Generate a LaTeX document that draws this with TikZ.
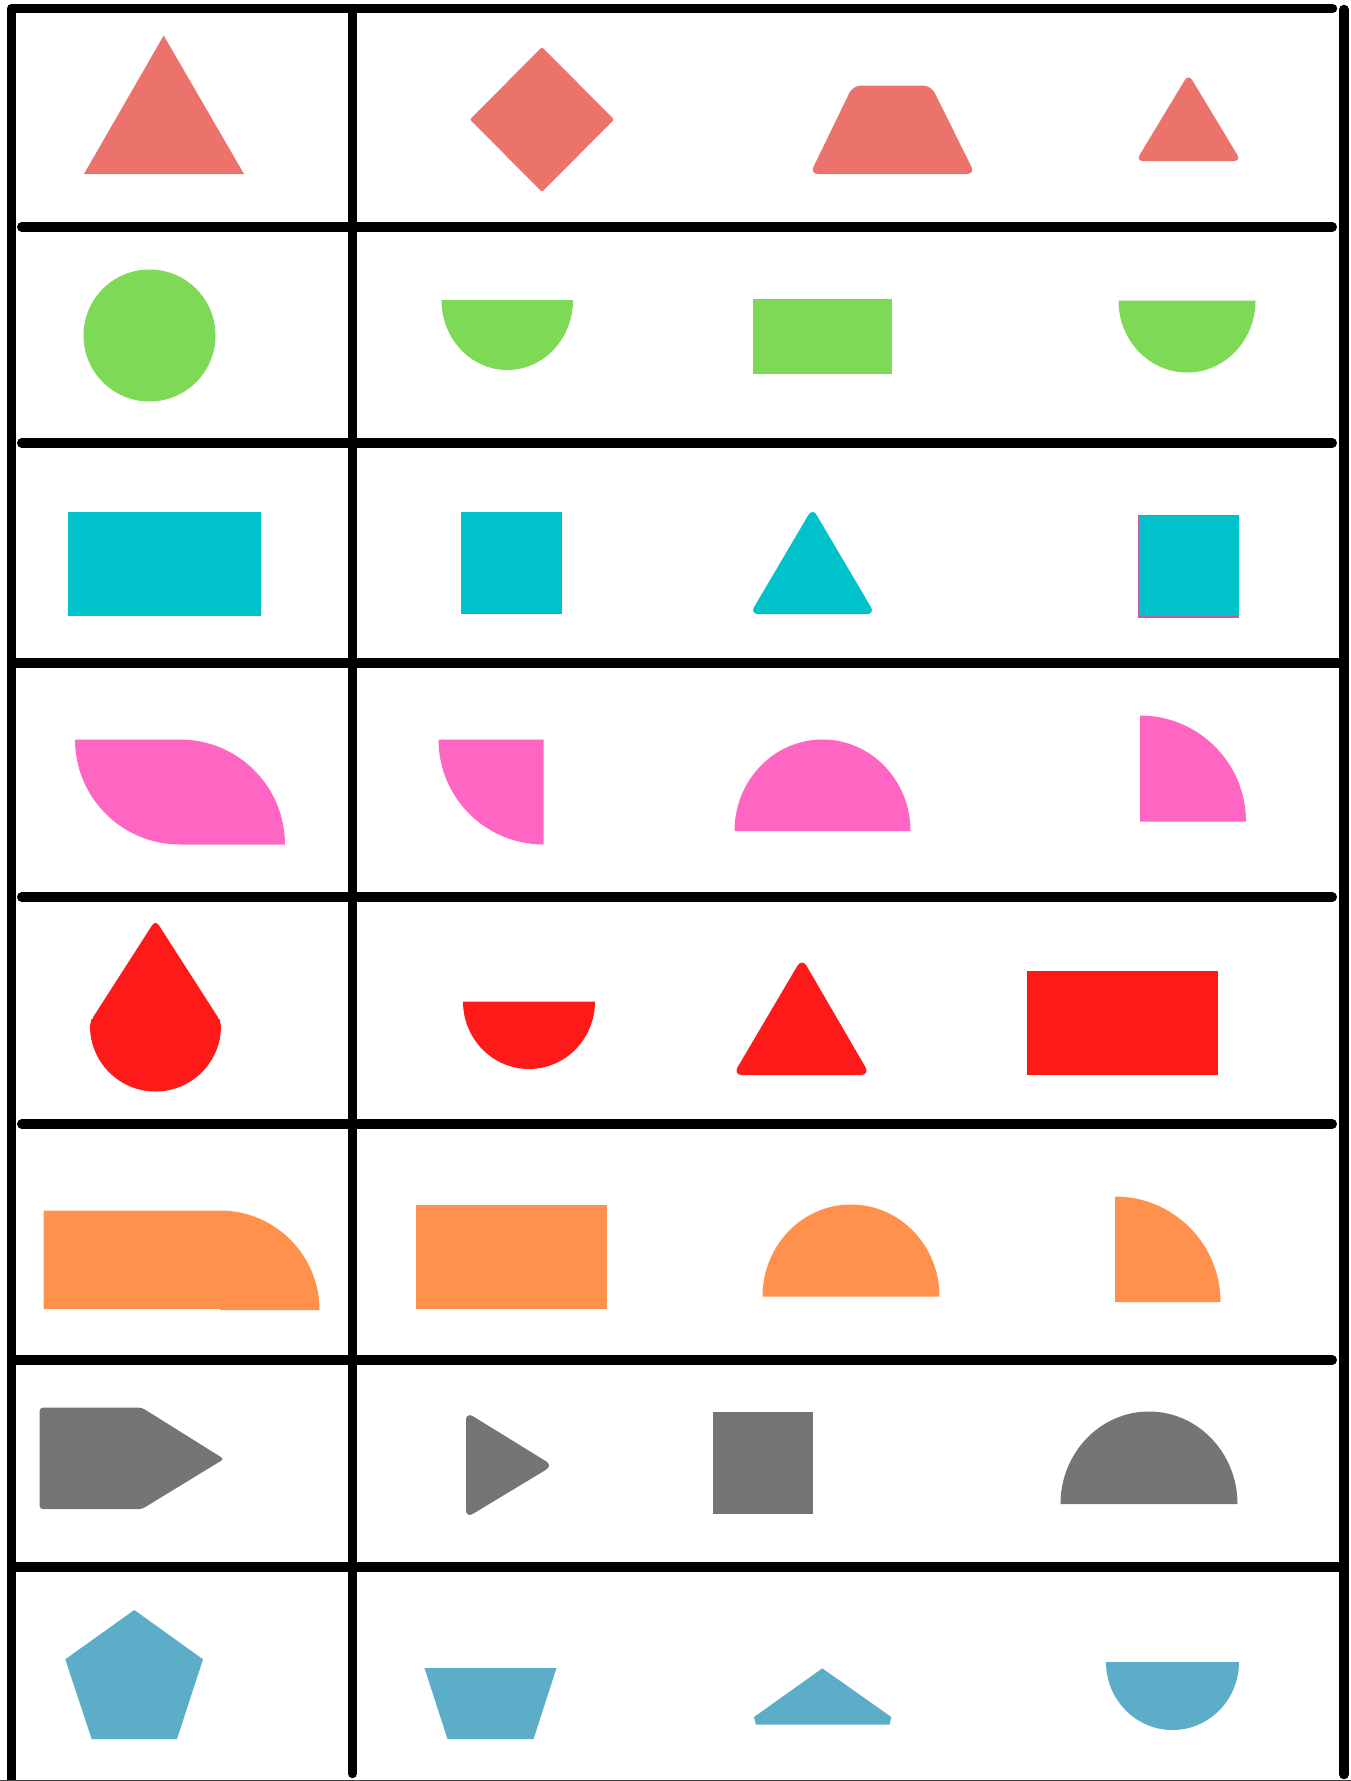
\documentclass[tikz,border=0pt]{standalone}
\usepackage{xcolor}
\usepackage{tikz}

\definecolor{salmon}{HTML}{EC736B}
\definecolor{leaf}{HTML}{7ED957}
\definecolor{teal}{HTML}{00C2CB}
\definecolor{rose}{HTML}{FF66C4}
\definecolor{scarlet}{HTML}{FF1A1A}
\definecolor{tangerine}{HTML}{FF914D}
\definecolor{slate}{HTML}{757575}
\definecolor{sky}{HTML}{5CADC7}
\definecolor{edge}{HTML}{C05BA8}

\tikzset{
  rule/.style={line width=9.5pt, line cap=round, line join=round},
  rowa/.style={fill=salmon},
  rowb/.style={fill=leaf},
  rowc/.style={fill=teal},
  rowd/.style={fill=rose},
  rowe/.style={fill=scarlet},
  rowf/.style={fill=tangerine},
  rowg/.style={fill=slate},
  rowh/.style={fill=sky}
}

\begin{document}
\begin{tikzpicture}[x=1pt, y=-1pt]
  \useasboundingbox (0,0) rectangle (1351,1781);

  % grid
  \draw[rule] (11.5,1785) -- (11.5,8.5) -- (1332.5,8.5);
  \draw[rule] (1344,9.5) -- (1344,1774.5);
  \draw[rule] (352.5,8.5) -- (352.5,1773.5);
  \foreach \y in {227,443,897,1124}
    \draw[rule] (21.75,\y) -- (1332.25,\y);
  \draw[rule] (11.5,1360) -- (1332.25,1360);
  \draw[rule, line cap=butt] (11.5,663) -- (1344,663);
  \draw[rule, line cap=butt] (11.5,1567) -- (1344,1567);
  \draw[line width=1pt, black!75] (0,1780.5) -- (1351,1780.5);

  % row 1
  \fill[rowa] (163.7,35.5) -- (244,174) -- (84,174) -- cycle;
  \fill[rowa, rounded corners=2pt] (542,47) -- (614,119.5) -- (542,192) -- (470,119.5) -- cycle;
  \fill[rowa, rounded corners=8pt] (853,85.5) -- (931,85.5) -- (975,174) -- (810,174) -- cycle;
  \fill[rowa, rounded corners=7pt] (1188.5,74) -- (1241,161) -- (1136,161) -- cycle;

  % row 2
  \fill[rowb] (149.5,335.5) circle[radius=66pt];
  \fill[rowb] (441.5,300) -- (573,300) arc[start angle=0, end angle=-180, x radius=65.75pt, y radius=70pt] -- cycle;
  \fill[rowb] (753,298.5) rectangle (892,374);
  \fill[rowb] (1118.5,300.5) -- (1255.5,300.5) arc[start angle=0, end angle=-180, x radius=68.5pt, y radius=72pt] -- cycle;

  % row 3
  \fill[rowc] (68,512) rectangle (260.5,616);
  \fill[rowc] (461,512) rectangle (561.5,613.5);
  \fill[rowc, rounded corners=8pt] (812.5,508) -- (875,614) -- (750,614) -- cycle;
  \fill[rowc] (1138.5,515.5) rectangle (1238.5,617);
  \draw[edge, line width=1.2pt] (1238.5,515.5) -- (1138.5,515.5) -- (1138.5,617) -- (1238.5,617);

  % row 4
  \fill[rowd] (74.5,739.5) -- (180,739.5) arc[start angle=90, end angle=0, radius=105pt]
    -- (180,844.5) arc[start angle=-90, end angle=-180, radius=105pt] -- cycle;
  \fill[rowd] (543.5,739.5) -- (543.5,844.5) arc[start angle=-90, end angle=-180, radius=105pt] -- cycle;
  \fill[rowd] (910.5,831) arc[start angle=0, end angle=180, x radius=88pt, y radius=91.5pt] -- cycle;
  \fill[rowd] (1140,821.5) -- (1140,715.5) arc[start angle=90, end angle=0, radius=106pt] -- cycle;

  % row 5
  \fill[rowe, rounded corners=6pt] (155.5,920) -- (221,1022) -- (90,1022) -- cycle;
  \fill[rowe] (90,1026) -- (91.5,1019) -- (219.5,1019) -- (221,1026)
    arc[start angle=0, end angle=-180, radius=65.5pt] -- cycle;
  \fill[rowe] (463,1001.5) -- (595,1001.5) arc[start angle=0, end angle=-180, x radius=66pt, y radius=67.5pt] -- cycle;
  \fill[rowe, rounded corners=9pt] (802,958) -- (870,1075) -- (733,1075) -- cycle;
  \fill[rowe] (1026.5,971) rectangle (1218,1074.5);

  % row 6
  \fill[rowf] (43.5,1210.5) -- (220,1210.5) arc[start angle=90, end angle=0, radius=99.5pt]
    -- (220,1310) -- (220,1309) -- (43.5,1309) -- cycle;
  \fill[rowf] (415.5,1204.5) rectangle (607,1309);
  \fill[rowf] (939.5,1296.5) arc[start angle=0, end angle=180, x radius=88.5pt, y radius=92pt] -- cycle;
  \fill[rowf] (1115,1302) -- (1115,1196.5) arc[start angle=90, end angle=0, radius=105.5pt] -- cycle;

  % row 7
  \fill[rowg, rounded corners=3pt] (39.7,1407.7) -- (142,1407.7) -- (224,1459) -- (142,1509) -- (39.7,1509) -- cycle;
  \fill[rowg, rounded corners=8pt] (466,1412) -- (553,1465.5) -- (466,1518) -- cycle;
  \fill[rowg] (712.5,1412) rectangle (812.5,1514);
  \fill[rowg] (1237.5,1504) arc[start angle=0, end angle=180, x radius=88.5pt, y radius=92.5pt] -- cycle;

  % row 8
  \fill[rowh] (134.3,1610) -- (203,1659.3) -- (177,1739) -- (91.7,1739) -- (65.3,1659.3) -- cycle;
  \fill[rowh] (424.5,1668) -- (556.5,1668) -- (533.5,1739) -- (447.5,1739) -- cycle;
  \fill[rowh] (822.3,1668.3) -- (891.3,1717) -- (889.6,1724.7) -- (755.8,1724.7) -- (754.1,1717) -- cycle;
  \fill[rowh] (1106,1662) -- (1239,1662) arc[start angle=0, end angle=-180, x radius=66.5pt, y radius=68pt] -- cycle;
\end{tikzpicture}
\end{document}
